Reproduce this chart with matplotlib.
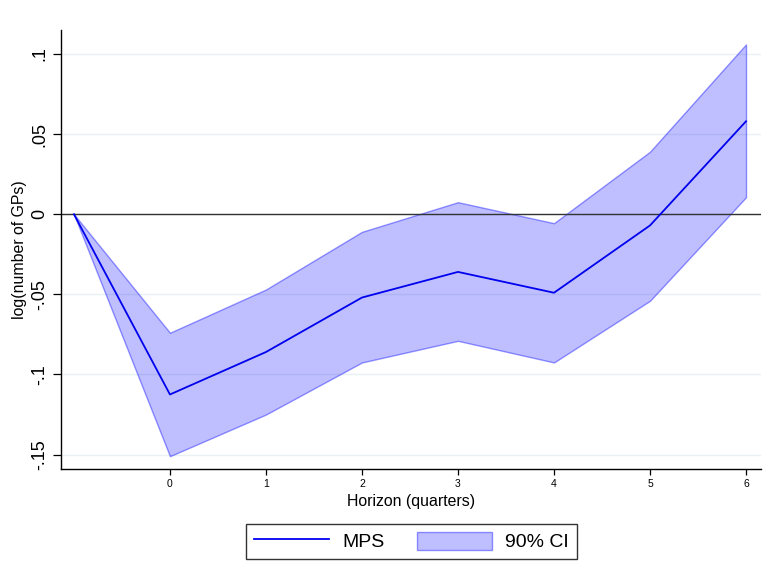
import numpy as np
import matplotlib.pyplot as plt
from matplotlib.patches import Patch
from matplotlib.lines import Line2D

plt.rcParams['font.family'] = ['Liberation Sans', 'DejaVu Sans']

# --- Réponse impulsionnelle (horizon en trimestres) ---
horizon = [-1, 0, 1, 2, 3, 4, 5, 6]
mps = [0.0, -0.1125, -0.086, -0.052, -0.036, -0.049, -0.007, 0.058]
ci_haut = [0.0, -0.074, -0.047, -0.011, 0.0075, -0.0056, 0.039, 0.106]
ci_bas = [0.0, -0.151, -0.125, -0.0925, -0.079, -0.0925, -0.054, 0.0106]

yticks = [-0.15, -0.1, -0.05, 0, 0.05, 0.1]
yticklabels = ['-.15', '-.1', '-.05', '0', '.05', '.1']
xticks = [0, 1, 2, 3, 4, 5, 6]

fig = plt.figure(figsize=(7.69, 5.81), dpi=100)
ax = fig.add_axes([0.0793, 0.1928, 0.9103, 0.7556])

# grille horizontale claire
for y in yticks:
    ax.axhline(y, color='#eaf1f4', lw=1.0, zorder=0)

# bande de confiance et estimation ponctuelle
ax.fill_between(horizon, ci_bas, ci_haut, facecolor=(0, 0, 1, 0.25),
                edgecolor=(0, 0, 1, 0.4), lw=1.0, zorder=1)
ax.axhline(0, color='#333333', lw=1.0, zorder=2)
ax.plot(horizon, mps, color='#0000ee', lw=1.3, zorder=3)

ax.set_xlim(-1.135, 6.156)
ax.set_ylim(-0.159, 0.115)

ax.set_xticks(xticks)
ax.set_xticklabels([str(t) for t in xticks], fontsize=7.5)
ax.set_yticks(yticks)
ax.set_yticklabels(yticklabels, fontsize=13, rotation=90, va='center')
ax.tick_params(axis='y', length=6, width=0.9, pad=3)
ax.tick_params(axis='x', length=4.5, width=0.9, pad=3)

for s in ['top', 'right']:
    ax.spines[s].set_visible(False)
for s in ['left', 'bottom']:
    ax.spines[s].set_linewidth(1.0)

ax.set_xlabel('Horizon (quarters)', fontsize=11.4, labelpad=3)
ax.set_ylabel('log(number of GPs)', fontsize=11.4, labelpad=3)

handles = [Line2D([], [], color='#0000ee', lw=1.3),
           Patch(facecolor=(0, 0, 1, 0.25), edgecolor=(0, 0, 1, 0.4), lw=1.0)]
leg = fig.legend(handles, ['MPS', '90% CI'], ncol=2, loc='center',
                 bbox_to_anchor=(0.535, 0.068), fontsize=14,
                 frameon=True, fancybox=False, edgecolor='black',
                 handlelength=3.86, handleheight=1.03, columnspacing=1.7,
                 handletextpad=0.67, borderpad=0.42, borderaxespad=0)
leg.get_frame().set_linewidth(1.0)

fig.savefig('out.png', dpi=100)
